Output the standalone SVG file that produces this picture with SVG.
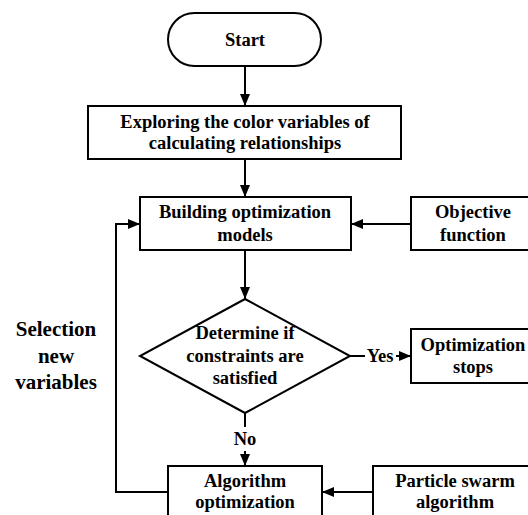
<svg xmlns="http://www.w3.org/2000/svg" width="528" height="515" viewBox="0 0 528 515">
<defs>
<marker id="ah" markerWidth="12" markerHeight="10" refX="12" refY="5" orient="auto" markerUnits="userSpaceOnUse">
<path d="M0,0 L12,5 L0,10 Z" fill="#000"/>
</marker>
<style>
.box{fill:#fff;stroke:#000;stroke-width:2}
.ln{fill:none;stroke:#000;stroke-width:2}
text{font-family:'Liberation Serif','Times New Roman','DejaVu Serif',serif;font-weight:bold;font-size:18.5px;text-anchor:middle;fill:#000}
.big{font-size:21px}
</style>
</defs>
<rect width="528" height="515" fill="#fff"/>
<g id="connectors" font-family="Liberation Serif, serif">
<line class="ln" x1="245" y1="66" x2="245" y2="106" marker-end="url(#ah)"/>
<line class="ln" x1="245" y1="159" x2="245" y2="197" marker-end="url(#ah)"/>
<line class="ln" x1="411" y1="224" x2="351" y2="224" marker-end="url(#ah)"/>
<line class="ln" x1="245" y1="250" x2="245" y2="299" marker-end="url(#ah)"/>
<line class="ln" x1="350" y1="356" x2="365" y2="356"/>
<line class="ln" x1="396" y1="356" x2="411" y2="356" marker-end="url(#ah)"/>
<line class="ln" x1="245" y1="413" x2="245" y2="427"/>
<line class="ln" x1="245" y1="451" x2="245" y2="466" marker-end="url(#ah)"/>
<line class="ln" x1="373" y1="492" x2="322" y2="492" marker-end="url(#ah)"/>
<polyline class="ln" points="168,492 116,492 116,224 140,224" marker-end="url(#ah)"/>
<text x="380" y="362">Yes</text>
<text x="245" y="445">No</text>
<text class="big" x="56" y="336">Selection</text>
<text class="big" x="56" y="363">new</text>
<text class="big" x="56" y="389">variables</text>
</g>
<g id="start">
<rect class="box" x="168" y="13" width="153" height="53" rx="26.5" ry="26.5"/>
<text x="245" y="46">Start</text>
</g>
<g id="explore">
<rect class="box" x="88" y="106" width="313" height="53"/>
<text x="245" y="128">Exploring the color variables of</text>
<text x="245" y="149">calculating relationships</text>
</g>
<g id="build">
<rect class="box" x="140" y="197" width="211" height="53"/>
<text x="245" y="218">Building optimization</text>
<text x="245" y="241">models</text>
</g>
<g id="objective">
<rect class="box" x="411" y="197" width="125" height="53"/>
<text x="473" y="218">Objective</text>
<text x="473" y="241">function</text>
</g>
<g id="decision">
<polygon class="box" points="245,299 350,356 245,413 140,356"/>
<text x="245" y="339">Determine if</text>
<text x="245" y="362">constraints are</text>
<text x="245" y="384">satisfied</text>
</g>
<g id="stops">
<rect class="box" x="411" y="329" width="125" height="54"/>
<text x="473" y="351">Optimization</text>
<text x="473" y="373">stops</text>
</g>
<g id="algorithm">
<rect class="box" x="168" y="466" width="154" height="60"/>
<text x="245" y="487">Algorithm</text>
<text x="245" y="508">optimization</text>
</g>
<g id="pso">
<rect class="box" x="373" y="466" width="165" height="60"/>
<text x="455" y="487">Particle swarm</text>
<text x="455" y="508">algorithm</text>
</g>
</svg>
